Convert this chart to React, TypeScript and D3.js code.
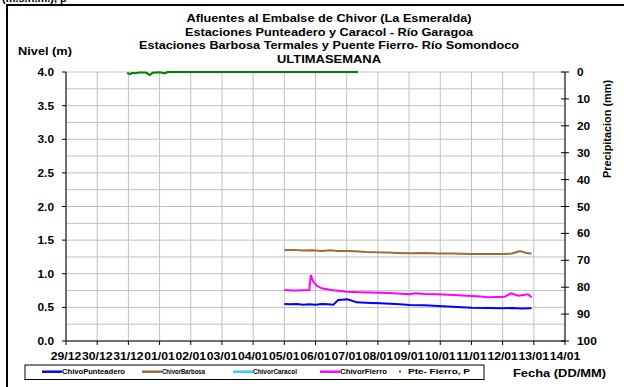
import React from "react";
import * as d3 from "d3";

const dateLabels = ["29/12","30/12","31/12","01/01","02/01","03/01","04/01","05/01","06/01","07/01","08/01","09/01","10/01","11/01","12/01","13/01","14/01"];
const levelTicks = [0, 0.5, 1, 1.5, 2, 2.5, 3, 3.5, 4];
const precipTicks = [0, 10, 20, 30, 40, 50, 60, 70, 80, 90, 100];

// day offset from 29/12, level (m)
const punteadero: [number, number][] = [
  [7.0,0.55],[7.2,0.545],[7.4,0.55],[7.6,0.54],[7.8,0.545],[8.0,0.54],[8.2,0.55],[8.4,0.545],[8.57,0.54],[8.73,0.61],[8.85,0.615],[9.0,0.62],[9.1,0.61],[9.32,0.575],[9.6,0.57],[9.8,0.565],[10.07,0.56],[10.4,0.555],[10.7,0.545],[11.03,0.535],[11.5,0.53],[11.93,0.52],[12.4,0.51],[13.0,0.495],[13.5,0.49],[13.97,0.486],[14.3,0.49],[14.6,0.485],[14.93,0.486]
];
const barbosa: [number, number][] = [
  [7.0,1.353],[7.3,1.355],[7.6,1.345],[7.9,1.35],[8.2,1.34],[8.46,1.35],[8.7,1.34],[9.0,1.338],[9.3,1.335],[9.6,1.325],[9.96,1.318],[10.3,1.315],[10.6,1.31],[11.03,1.304],[11.5,1.31],[11.93,1.30],[12.4,1.30],[13.0,1.294],[13.5,1.295],[13.97,1.294],[14.3,1.30],[14.56,1.338],[14.75,1.31],[14.93,1.30]
];
const caracol: [number, number][] = [];
const fierro: [number, number][] = [
  [7.0,0.758],[7.3,0.752],[7.6,0.755],[7.8,0.758],[7.85,0.981],[7.93,0.882],[8.05,0.82],[8.2,0.783],[8.5,0.76],[8.8,0.745],[9.0,0.733],[9.4,0.725],[9.8,0.72],[10.07,0.718],[10.5,0.71],[11.03,0.694],[11.19,0.709],[11.5,0.70],[11.93,0.694],[12.4,0.685],[13.0,0.669],[13.3,0.66],[13.53,0.65],[13.8,0.655],[14.07,0.659],[14.27,0.709],[14.5,0.674],[14.82,0.694],[14.93,0.65]
];
// precipitation (mm)
const pteFierroP: [number, number][] = [
  [1.96,0.3],[2.05,0.8],[2.12,0.3],[2.21,0.5],[2.35,0.2],[2.55,0.2],[2.69,1.1],[2.78,0.3],[3.0,0.1],[3.17,0.5],[3.25,0],[9.36,0]
];

const legendItems = [
  { name: "ChivoPunteadero", color: "#0000FF", x: 42, w: 63, type: "line" },
  { name: "ChivorBarbosa", color: "#9E6A3A", x: 142, w: 43, type: "line" },
  { name: "ChivorCaracol", color: "#33CCFF", x: 233, w: 44, type: "line" },
  { name: "ChivorFierro", color: "#FF00FF", x: 320, w: 47, type: "line" },
  { name: "Pte- Fierro, P", color: "#008000", x: 399, w: 62, type: "dot" },
];

const titles = [
  "Afluentes al Embalse de Chivor (La Esmeralda)",
  "Estaciones Punteadero y Caracol - Río Garagoa",
  "Estaciones Barbosa Termales y Puente Fierro- Río Somondoco",
  "ULTIMASEMANA",
];
const titleWidths = [285, 288, 380, 104];

const FONT = "'Liberation Sans', Arial, sans-serif";
const SX = 1.13;

export default function App() {
  const x = d3.scaleLinear().domain([0, 16]).range([66, 565]);
  const y = d3.scaleLinear().domain([0, 4]).range([341, 72]);
  const yR = d3.scaleLinear().domain([0, 100]).range([72, 341]);
  const line = d3.line<[number, number]>().x((d) => x(d[0])).y((d) => y(d[1]));
  const lineR = d3.line<[number, number]>().x((d) => x(d[0])).y((d) => yR(d[1]));
  const minor = d3.range(0, 4.001, 0.25);

  return (
    <svg width={624} height={387} style={{ position: "absolute", left: 0, top: 0, background: "#fff" }} fontFamily={FONT}>
      <rect x={0} y={0} width={624} height={387} fill="#fff" />
      <text x={2} y={2} fontSize={11} fontWeight="bold">(m.s.n.m.), p</text>
      <rect x={7} y={5} width={640} height={400} fill="none" stroke="#000" strokeWidth={2} />
      {titles.map((t, i) => (
        <text key={i} x={329} y={22 + i * 13.7} textAnchor="middle" fontSize={11} fontWeight="bold" textLength={titleWidths[i]} lengthAdjust="spacingAndGlyphs">{t}</text>
      ))}
      <text x={18} y={55} fontSize={11} fontWeight="bold" textLength={54} lengthAdjust="spacingAndGlyphs">Nivel (m)</text>
      {/* grid */}
      {minor.map((v, i) => (
        <line key={"h" + i} x1={66} x2={565} y1={y(v)} y2={y(v)} stroke="#C0C0C0" strokeWidth={1} />
      ))}
      {dateLabels.map((_, i) => (
        <line key={"v" + i} x1={x(i)} x2={x(i)} y1={72} y2={341} stroke="#C0C0C0" strokeWidth={1} />
      ))}
      {/* axes */}
      <line x1={66} x2={66} y1={72} y2={341} stroke="#000" />
      <line x1={565} x2={565} y1={72} y2={341} stroke="#000" />
      <line x1={66} x2={565} y1={341} y2={341} stroke="#000" />
      {levelTicks.map((v) => (
        <g key={"l" + v}>
          <line x1={62} x2={66} y1={y(v)} y2={y(v)} stroke="#000" />
          <text transform={`translate(54,${y(v) + 4}) scale(${SX},1)`} textAnchor="end" fontSize={10.5} fontWeight="bold">{v.toFixed(1)}</text>
        </g>
      ))}
      {precipTicks.map((v) => (
        <g key={"r" + v}>
          <line x1={561} x2={569} y1={yR(v)} y2={yR(v)} stroke="#000" />
          <text transform={`translate(577,${yR(v) + 4}) scale(${SX},1)`} fontSize={10.5} fontWeight="bold">{v}</text>
        </g>
      ))}
      {dateLabels.map((d, i) => (
        <g key={"d" + i}>
          <line x1={x(i)} x2={x(i)} y1={341} y2={345} stroke="#000" />
          <text x={x(i)} y={359.5} textAnchor="middle" fontSize={10.5} fontWeight="bold" textLength={30.5} lengthAdjust="spacingAndGlyphs">{d}</text>
        </g>
      ))}
      <text transform="translate(611,129) rotate(-90)" textAnchor="middle" fontSize={10.5} fontWeight="bold" textLength={98} lengthAdjust="spacingAndGlyphs">Precipitacion (mm)</text>
      {/* series */}
      <path d={line(barbosa) || ""} fill="none" stroke="#9E6A3A" strokeWidth={2} />
      <path d={line(fierro) || ""} fill="none" stroke="#FF00FF" strokeWidth={2} />
      <path d={line(punteadero) || ""} fill="none" stroke="#0000FF" strokeWidth={2} />
      {caracol.length > 0 && <path d={line(caracol) || ""} fill="none" stroke="#33CCFF" strokeWidth={2} />}
      <path d={lineR(pteFierroP) || ""} fill="none" stroke="#008000" strokeWidth={2} />
      {/* legend */}
      <rect x={25} y={365} width={459} height={14.5} fill="#fff" stroke="#000" strokeWidth={1} />
      {legendItems.map((it) => (
        <g key={it.name}>
          {it.type === "line" ? (
            <line x1={it.x} x2={it.x + 20} y1={371.7} y2={371.7} stroke={it.color} strokeWidth={2.5} />
          ) : (
            <rect x={it.x} y={370.5} width={2} height={2} fill={it.color} />
          )}
          <text x={it.type === "line" ? it.x + 20 : it.x + 9} y={374} fontSize={6.5} fontWeight="bold" textLength={it.w} lengthAdjust="spacingAndGlyphs">{it.name}</text>
        </g>
      ))}
      <text x={513} y={377} fontSize={11.5} fontWeight="bold" textLength={93} lengthAdjust="spacingAndGlyphs">Fecha (DD/MM)</text>
    </svg>
  );
}
